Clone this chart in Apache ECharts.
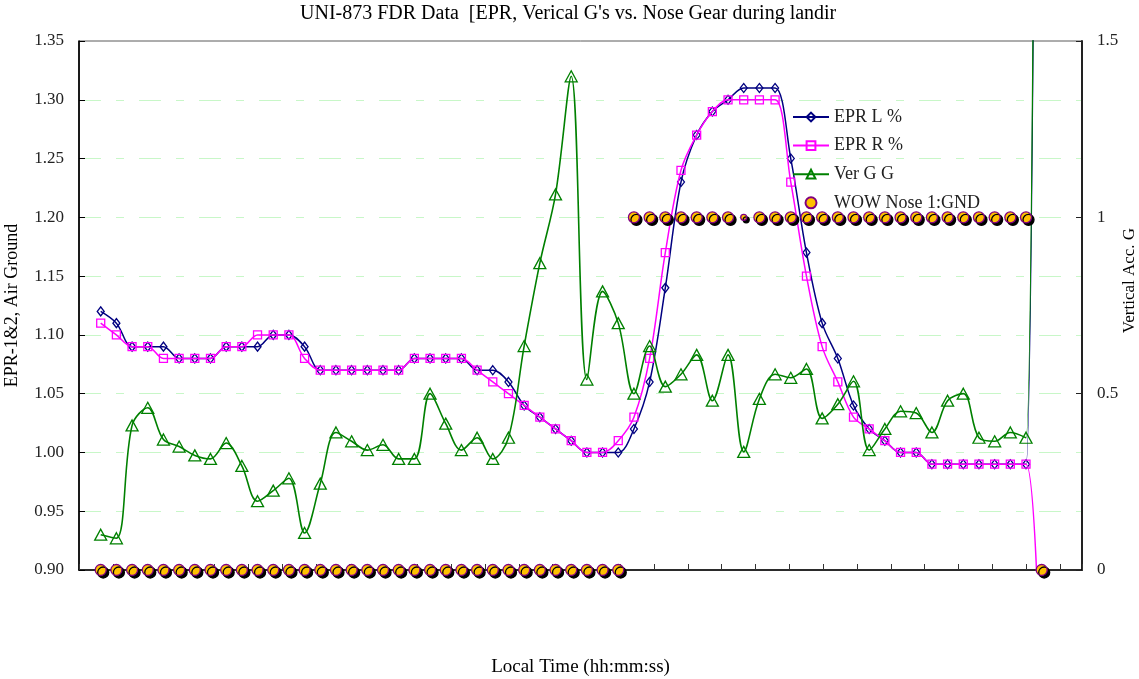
<!DOCTYPE html>
<html>
<head>
<meta charset="utf-8">
<script src="https://cdn.jsdelivr.net/npm/echarts@6/dist/echarts.min.js"></script>
<style>
html,body{margin:0;padding:0;background:#fff;}
#c{width:1139px;height:679px;}
</style>
</head>
<body>
<div id="c"></div>
<script>
// ---- data (sample index 0..60) ----
const titleText = "UNI-873 FDR Data  [EPR, Verical G's vs. Nose Gear during landir";
const seriesNames = ['EPR L %', 'EPR R %', 'Ver G G', 'WOW Nose 1:GND'];

const eprL = [1.12,1.11,1.09,1.09,1.09,1.08,1.08,1.08,1.09,1.09,
              1.09,1.10,1.10,1.09,1.07,1.07,1.07,1.07,1.07,1.07,
              1.08,1.08,1.08,1.08,1.07,1.07,1.06,1.04,1.03,1.02,
              1.01,1.00,1.00,1.00,1.02,1.06,1.14,1.23,1.27,1.29,
              1.30,1.31,1.31,1.31,1.25,1.17,1.11,1.08,1.04,1.02,
              1.01,1.00,1.00,0.99,0.99,0.99,0.99,0.99,0.99,0.99,
              3.30];
const eprR = [1.11,1.10,1.09,1.09,1.08,1.08,1.08,1.08,1.09,1.09,
              1.10,1.10,1.10,1.08,1.07,1.07,1.07,1.07,1.07,1.07,
              1.08,1.08,1.08,1.08,1.07,1.06,1.05,1.04,1.03,1.02,
              1.01,1.00,1.00,1.01,1.03,1.08,1.17,1.24,1.27,1.29,
              1.30,1.30,1.30,1.30,1.23,1.15,1.09,1.06,1.03,1.02,
              1.01,1.00,1.00,0.99,0.99,0.99,0.99,0.99,0.99,0.99,
              0.76];
const verG = [0.10,0.09,0.41,0.46,0.37,0.35,0.325,0.315,0.36,0.295,
              0.195,0.225,0.26,0.105,0.245,0.39,0.365,0.34,0.355,0.315,
              0.315,0.50,0.415,0.34,0.375,0.315,0.375,0.635,0.87,1.065,
              1.40,0.54,0.79,0.70,0.50,0.635,0.52,0.555,0.61,0.48,
              0.61,0.335,0.485,0.555,0.545,0.57,0.43,0.47,0.535,0.34,
              0.40,0.45,0.445,0.39,0.48,0.50,0.375,0.365,0.39,0.375,
              8.0];
const wowNose = [0,0,0,0,0,0,0,0,0,0,
                 0,0,0,0,0,0,0,0,0,0,
                 0,0,0,0,0,0,0,0,0,0,
                 0,0,0,0,1,1,1,1,1,1,
                 1,1,1,1,1,1,1,1,1,1,
                 1,1,1,1,1,1,1,1,1,1,
                 0];

const FONT = '"Liberation Serif","Times New Roman",serif';
const pairs = arr => arr.map((v, i) => [i, v]);

const chart = echarts.init(document.getElementById('c'), null, {renderer: 'canvas'});
const option = {
  animation: false,
  backgroundColor: '#ffffff',
  title: {
    text: titleText, left: 300, top: 4, padding: 0,
    textStyle: {fontFamily: FONT, fontSize: 20, fontWeight: 'normal', color: '#000'}
  },
  legend: {
    orient: 'vertical', left: 792, top: 108, padding: 0,
    itemWidth: 36, itemHeight: 11, itemGap: 10.6,
    textStyle: {fontFamily: FONT, fontSize: 18, color: '#222'},
    data: [
      seriesNames[0], seriesNames[1], seriesNames[2],
      {name: seriesNames[3], icon: 'circle',
       itemStyle: {shadowColor: 'rgba(0,0,0,0)', shadowOffsetX: 0, shadowOffsetY: 0}}
    ]
  },
  grid: {left: 79, right: 57, top: 41, bottom: 109, show: true,
         borderColor: '#5a5a5a', borderWidth: 1, containLabel: false, outerBoundsMode: 'none'},
  xAxis: [
    {
      type: 'value', min: -1.384, max: 62.57,
      axisLine: {show: true, onZero: false, lineStyle: {color: '#000', width: 1.5}},
      axisTick: {show: false}, axisLabel: {show: false}, splitLine: {show: false},
      name: 'Local Time (hh:mm:ss)', nameLocation: 'middle', nameGap: 88, nameMoveOverlap: false,
      nameTextStyle: {fontFamily: FONT, fontSize: 19, color: '#000'}
    },
    {
      type: 'value', min: 0, max: 29.65, interval: 1, position: 'bottom',
      axisLine: {show: false, onZero: false},
      axisTick: {show: true, inside: true, length: 6, lineStyle: {color: '#333', width: 1}},
      axisLabel: {show: false}, splitLine: {show: false}
    }
  ],
  yAxis: [
    {
      type: 'value', min: 0.9, max: 1.35, interval: 0.05, position: 'left',
      axisLine: {show: true, onZero: false, lineStyle: {color: '#000', width: 1.7}},
      axisTick: {show: true, inside: true, length: 6, lineStyle: {color: '#000'}},
      axisLabel: {fontFamily: FONT, fontSize: 17, color: '#222', margin: 15,
                  formatter: v => v.toFixed(2)},
      splitLine: {show: true, showMinLine: false, showMaxLine: false,
                  lineStyle: {color: '#c8f7c8', width: 1, type: [22, 15, 8, 15]}},
      name: 'EPR-1&2, Air Ground', nameLocation: 'middle', nameGap: 58, nameMoveOverlap: false,
      nameTextStyle: {fontFamily: FONT, fontSize: 18, color: '#000'}
    },
    {
      type: 'value', min: 0, max: 1.5, interval: 0.5, position: 'right',
      axisLine: {show: true, onZero: false, lineStyle: {color: '#222', width: 2}},
      axisTick: {show: true, inside: true, length: 6, lineStyle: {color: '#222'}},
      axisLabel: {fontFamily: FONT, fontSize: 17, color: '#222', margin: 15},
      splitLine: {show: false},
      name: 'Vertical Acc. G', nameLocation: 'middle', nameGap: 39, nameMoveOverlap: false,
      nameTextStyle: {fontFamily: FONT, fontSize: 17, color: '#000', padding: [0, 0, 0, 50]}
    }
  ],
  series: [
    {
      name: seriesNames[0], type: 'line', xAxisIndex: 0, yAxisIndex: 0,
      data: pairs(eprL), smooth: 0.35, symbol: 'diamond', symbolSize: [7, 9],
      lineStyle: {color: '#000080', width: 1.5},
      itemStyle: {color: 'rgba(255,255,255,0)', borderColor: '#000080', borderWidth: 1.3},
      z: 3
    },
    {
      name: seriesNames[1], type: 'line', xAxisIndex: 0, yAxisIndex: 0,
      data: pairs(eprR), smooth: 0.35, symbol: 'rect', symbolSize: 8,
      lineStyle: {color: '#ff00ff', width: 1.5},
      itemStyle: {color: 'rgba(255,255,255,0)', borderColor: '#ff00ff', borderWidth: 1.3},
      z: 4
    },
    {
      name: seriesNames[2], type: 'line', xAxisIndex: 0, yAxisIndex: 1,
      data: pairs(verG), smooth: 0.35, symbol: 'triangle', symbolSize: [12, 11],
      lineStyle: {color: '#008000', width: 1.6},
      itemStyle: {color: 'rgba(255,255,255,0)', borderColor: '#008000', borderWidth: 1.3},
      z: 5
    },
    {
      name: seriesNames[3], type: 'scatter', xAxisIndex: 0, yAxisIndex: 1,
      data: pairs(wowNose), symbol: 'circle',
      symbolSize: (val, p) => (p.dataIndex === 41 ? 6 : 11),
      itemStyle: {color: '#ffc000', borderColor: '#800080', borderWidth: 1.3,
                  shadowColor: '#000', shadowBlur: 0, shadowOffsetX: 2.5, shadowOffsetY: 2.5, opacity: 1},
      clip: false,
      z: 6
    }
  ]
};
chart.setOption(option);
</script>
</body>
</html>
